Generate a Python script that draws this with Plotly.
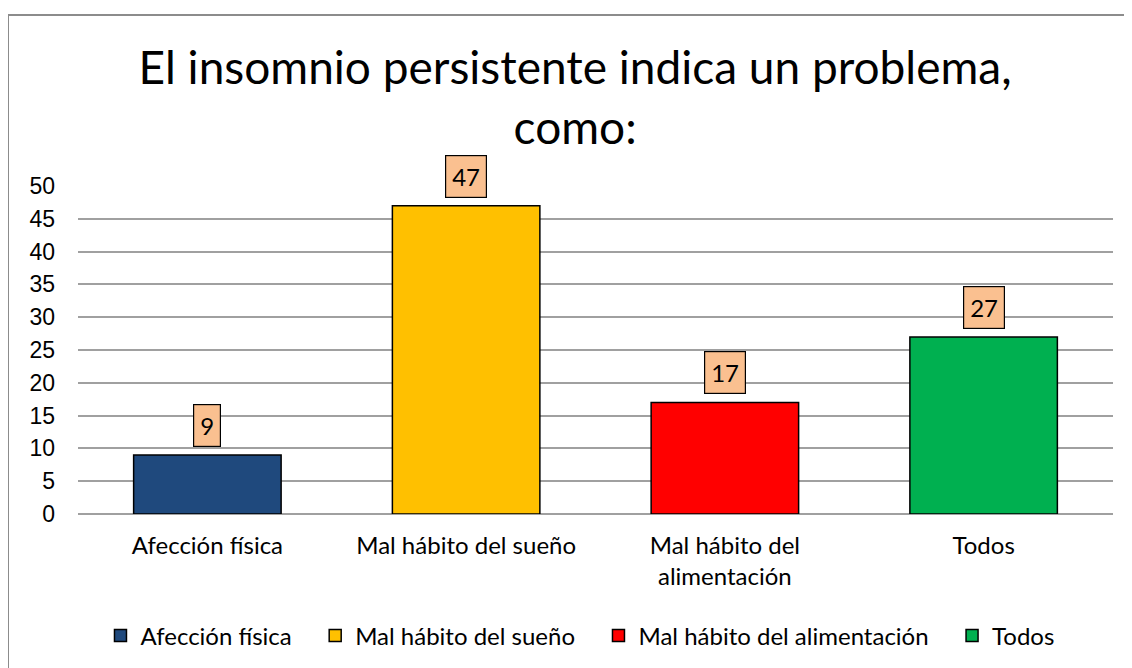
import plotly.graph_objects as go

categories = ["Afección física", "Mal hábito del sueño", "Mal hábito del alimentación", "Todos"]
tick_labels = ["Afección física", "Mal hábito del sueño", "Mal hábito del<br>alimentación", "Todos"]
values = [9, 47, 17, 27]
colors = ["#1F497D", "#FFC000", "#FF0000", "#00B050"]
y_ticks = [0, 5, 10, 15, 20, 25, 30, 35, 40, 45, 50]

FONT = "Lato, Carlito, Calibri, sans-serif"
PAD = "\u00a0" * 3

L, R, T, B = 70, 27, 178, 162
PW = 1132 - L - R
PH = 668 - T - B

fig = go.Figure()
n = len(categories)
for i, (cat, tl, v, c) in enumerate(zip(categories, tick_labels, values, colors)):
    fig.add_trace(go.Bar(
        x=[tl], y=[v], name=cat + (PAD if i < n - 1 else ""),
        marker=dict(color=c, line=dict(color="black", width=1.5)),
        width=0.57,
    ))
    fig.add_annotation(
        x=tl, y=v, text=str(v), showarrow=False,
        yanchor="bottom", yshift=8,
        font=dict(family=FONT, size=24, color="black"),
        bgcolor="#FAC090", bordercolor="black", borderwidth=1.2, borderpad=6,
    )

fig.add_shape(type="rect", xref="paper", yref="paper",
              x0=(0 - L) / PW, x1=(1150 - L) / PW,
              y0=(PH - 700) / PH, y1=(PH + T - 7) / PH,
              line=dict(color="#8C8C8C", width=2), layer="below")

fig.update_layout(
    width=1132, height=668,
    margin=dict(l=L, r=R, t=T, b=B),
    paper_bgcolor="white", plot_bgcolor="white",
    barmode="overlay",
    title=dict(
        text="El insomnio persistente indica un problema,<br>como:",
        x=0.501, xanchor="center", xref="container",
        y=1 - 76 / 668, yanchor="middle", yref="container",
        font=dict(family=FONT, size=46, color="black"),
    ),
    font=dict(family=FONT, size=24, color="black"),
    xaxis=dict(
        type="category", showgrid=False, showline=False, ticks="",
        tickfont=dict(family=FONT, size=24), ticklabelstandoff=15,
    ),
    yaxis=dict(
        range=[0, 50], tickvals=y_ticks, showgrid=True,
        gridcolor="#A0A0A0", gridwidth=1.5, zeroline=True,
        zerolinecolor="#A0A0A0", zerolinewidth=1.5,
        tickfont=dict(family="Liberation Sans, Arial, sans-serif", size=23),
        ticks="", ticklabelstandoff=22,
    ),
    legend=dict(
        orientation="h", x=0.485, xanchor="center",
        y=(PH - (628 - T)) / PH, yanchor="middle",
        font=dict(family=FONT, size=24), itemwidth=30,
        traceorder="normal",
    ),
    showlegend=True,
)

fig.write_html("out.html")
